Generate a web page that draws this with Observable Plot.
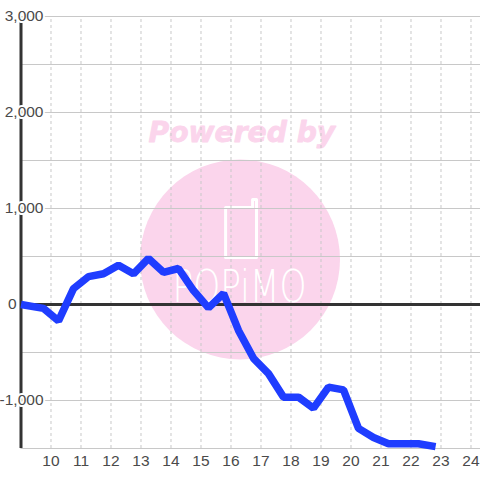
<!DOCTYPE html>
<html><head><meta charset="utf-8">
<script src="https://cdn.jsdelivr.net/npm/d3@7"></script>
<script src="https://cdn.jsdelivr.net/npm/@observablehq/plot@0.6"></script>
<style>html,body{margin:0;padding:0;background:#fff}svg{display:block}</style>
</head><body><div id="chart"></div>
<script>
const hours = [9,9.75,10.25,10.75,11.25,11.75,12.25,12.75,13.25,13.75,14.25,14.75,15.25,15.75,16.25,16.75,17.25,17.75,18.25,18.75,19.25,19.75,20.25,20.75,21.25,21.75,22.25,22.82];
const values = [0,-40,-170,165,290,320,410,320,480,335,375,145,-35,115,-270,-560,-720,-965,-965,-1080,-860,-890,-1290,-1385,-1450,-1450,-1450,-1480];
const xTicks = [10,11,12,13,14,15,16,17,18,19,20,21,22,23,24];
const yMajor = [3000,2000,1000,-1000];
const yGrid = [3000,2500,2000,1500,1000,500,0,-500,-1000,-1500];
const yLabels = ["3,000","2,000","1,000","-1,000"];
const phoneX = [15.82,16.72,16.72,16.85,16.85,15.82,15.82];
const phoneY = [1010,1010,1094,1094,490,490,1010];
const series = hours.map((h,i)=>({h,v:values[i]}));
const phone = phoneX.map((x,i)=>({x,y:phoneY[i]}));
const font = "'Liberation Sans', Arial, sans-serif";
const plot = Plot.plot({
  width:480,height:480,marginLeft:0,marginRight:0,marginTop:0,marginBottom:0,
  style:{background:"#fff",overflow:"hidden"},
  x:{type:"linear",domain:[9,24.317],range:[20.5,480],axis:null},
  y:{type:"linear",domain:[-1500,3000],range:[448,16],axis:null},
  marks:[
    Plot.dot([{x:16.3,y:469}],{x:"x",y:"y",r:100,fill:"#fbd5ec",stroke:"none"}),
    Plot.text(["Powered by"],{frameAnchor:"top-left",dx:148,dy:121,fontFamily:"'DejaVu Sans'",fontWeight:"bold",fontStyle:"italic",fontSize:28.2,fill:"#fbd5ec",stroke:"#fbd5ec",strokeWidth:0.8}),
    Plot.line(phone,{x:"x",y:"y",stroke:"#fff",strokeWidth:3,strokeLinejoin:"round"}),
    Plot.text(["POPiMO"],{frameAnchor:"top-left",dx:172,dy:270,fontFamily:"'DejaVu Sans'",fontWeight:200,fontSize:44,fill:"#fff",
      render(i,s,v,d,c,n){const g=n(i,s,v,d,c);g.querySelectorAll("text").forEach(t=>{t.setAttribute("textLength","134");t.setAttribute("lengthAdjust","spacingAndGlyphs");});return g;}}),
    Plot.ruleX(xTicks,{x:d=>d,y1:-1500,y2:3000,stroke:"#c8c8c8",strokeWidth:1,strokeDasharray:"3,3"}),
    Plot.ruleY(yGrid,{y:d=>d,x1:9,x2:24.317,stroke:"#c8c8c8",strokeWidth:1}),
    Plot.ruleX([9],{x:d=>d,y1:-1500,y2:3000,stroke:"#333",strokeWidth:3}),
    Plot.ruleY([0],{y:d=>d,x1:9,x2:24.317,stroke:"#333",strokeWidth:3}),
    Plot.text(yMajor,{x:9,y:d=>d,text:(d,i)=>yLabels[i],textAnchor:"end",dx:22.5,fontFamily:font,fontSize:15.5,fill:"#4a4a4a",stroke:"#fff",strokeWidth:4,paintOrder:"stroke"}),
    Plot.text(["0"],{x:9,y:0,textAnchor:"end",dx:-4.5,fontFamily:font,fontSize:15.5,fill:"#4a4a4a"}),
    Plot.line(series,{x:"h",y:"v",stroke:"#1f3dff",strokeWidth:7.5,strokeLinejoin:"bevel",strokeLinecap:"butt"}),
    Plot.text(xTicks,{x:d=>d,y:-1500,text:d=>String(d),dy:13,fontFamily:font,fontSize:15.5,fill:"#4a4a4a"})
  ]
});
document.getElementById("chart").append(plot);
</script></body></html>
